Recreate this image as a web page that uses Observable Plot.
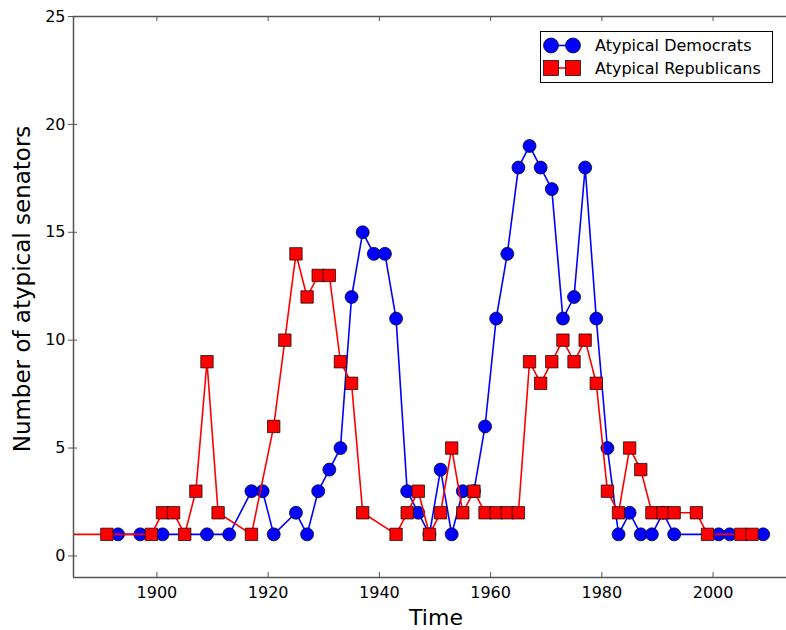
<!DOCTYPE html>
<html><head><meta charset="utf-8">
<script src="https://cdn.jsdelivr.net/npm/d3@7"></script>
<script src="https://cdn.jsdelivr.net/npm/@observablehq/plot@0.6"></script>
<style>
body{margin:0;background:#fff;}
#wrap{position:relative;width:786px;height:630px;font-family:"DejaVu Sans",sans-serif;overflow:hidden;}
#legend{position:absolute;left:540px;top:31px;}
</style></head><body><div id="wrap"></div>
<script>
// Data
const demYears = [1893,1897,1901,1909,1913,1917,1919,1921,1925,1927,1929,1931,1933,1935,1937,1939,1941,1943,1945,1947,1949,1951,1953,1955,1957,1959,1961,1963,1965,1967,1969,1971,1973,1975,1977,1979,1981,1983,1985,1987,1989,1991,1993,2001,2003,2009];
const demValues = [1,1,1,1,1,3,3,1,2,1,3,4,5,12,15,14,14,11,3,2,1,4,1,3,3,6,11,14,18,19,18,17,11,12,18,11,5,1,2,1,1,2,1,1,1,1];
const repYears = [1881,1891,1899,1901,1903,1905,1907,1909,1911,1917,1921,1923,1925,1927,1929,1931,1933,1935,1937,1943,1945,1947,1949,1951,1953,1955,1957,1959,1961,1963,1965,1967,1969,1971,1973,1975,1977,1979,1981,1983,1985,1987,1989,1991,1993,1997,1999,2005,2007];
const repValues = [1,1,1,2,2,1,3,9,2,1,6,10,14,12,13,13,9,8,2,1,2,3,1,2,5,2,3,2,2,2,2,9,8,9,10,9,10,8,3,2,5,4,2,2,2,2,1,1,1];
const seriesNames = ["Atypical Democrats", "Atypical Republicans"];
const xTicks = [1900,1920,1940,1960,1980,2000];
const yTicks = [0,5,10,15,20,25];
const xDomain = [1885, 2015];
const yDomain = [-1, 25];
const xLabel = "Time";
const yLabel = "Number of atypical senators";

const dem = demYears.map((x, i) => ({year: x, count: demValues[i]}));
const rep = repYears.map((x, i) => ({year: x, count: repValues[i]}));

const W = 786, H = 630, mL = 73, mR = 0, mT = 16, mB = 53;
const frameW = W - mL - mR, frameH = H - mT - mB;
const blue = "#0000ff", red = "#ff0000", axisCol = "#555";

const chart = Plot.plot({
  width: W, height: H,
  marginLeft: mL, marginRight: mR, marginTop: mT, marginBottom: mB,
  style: {fontFamily: "DejaVu Sans", background: "white", color: "black"},
  x: {domain: xDomain, range: [mL, W + 10]},
  y: {domain: yDomain},
  marks: [
    Plot.line(dem, {x: "year", y: "count", stroke: blue, strokeWidth: 1.6, clip: true}),
    Plot.dot(dem, {x: "year", y: "count", r: 6.5, fill: blue, stroke: "black", strokeWidth: 0.7, clip: true}),
    Plot.line(rep, {x: "year", y: "count", stroke: red, strokeWidth: 1.6, clip: true}),
    Plot.dot(rep, {x: "year", y: "count", symbol: "square", r: 7, fill: red, stroke: "black", strokeWidth: 0.7, clip: true}),
    // frame lines
    Plot.ruleX([xDomain[0]], {stroke: axisCol, strokeWidth: 1.5}),
    Plot.ruleY([yDomain[0]], {stroke: axisCol, strokeWidth: 1.5}),
    Plot.ruleY([yDomain[1]], {stroke: axisCol, strokeWidth: 1.5}),
    // inward ticks
    Plot.ruleX(xTicks, {stroke: axisCol, insetTop: frameH - 5}),
    Plot.ruleX(xTicks, {stroke: axisCol, insetBottom: frameH - 5}),
    Plot.ruleY(yTicks, {stroke: axisCol, insetRight: frameW - 4}),
    Plot.axisX(xTicks, {tickSize: 0, tickPadding: 9, fontSize: 16, label: null, fill: "black", tickFormat: d => String(d)}),
    Plot.axisY(yTicks, {tickSize: 5, tickPadding: 3, fontSize: 16, label: null, stroke: axisCol, fill: "black", tickFormat: d => String(d)}),
    Plot.text([xLabel], {frameAnchor: "bottom", text: d => d, dx: 6, dy: 40, fontSize: 22, textAnchor: "middle", lineAnchor: "middle", fill: "black"}),
    Plot.text([yLabel], {frameAnchor: "left", text: d => d, rotate: -90, dx: -51, dy: -8, fontSize: 23, textAnchor: "middle", lineAnchor: "middle", fill: "black"})
  ]
});
const wrap = document.getElementById("wrap");
wrap.appendChild(chart);

// Legend
const lw = 233, lh = 52;
const leg = d3.select(wrap).append("svg").attr("id", "legend").attr("width", lw).attr("height", lh)
  .style("font-family", "DejaVu Sans");
leg.append("rect").attr("x", 0.5).attr("y", 0.5).attr("width", lw - 1).attr("height", lh - 1)
  .attr("fill", "white").attr("stroke", "black").attr("stroke-width", 1);
const rows = [{name: seriesNames[0], color: blue, shape: "circle", y: 14.5},
              {name: seriesNames[1], color: red, shape: "square", y: 37}];
rows.forEach(r => {
  leg.append("line").attr("x1", 11).attr("x2", 33).attr("y1", r.y).attr("y2", r.y)
    .attr("stroke", r.color).attr("stroke-width", 1.6);
  [11, 33].forEach(cx => {
    if (r.shape === "circle") {
      leg.append("circle").attr("cx", cx).attr("cy", r.y).attr("r", 7.5)
        .attr("fill", r.color).attr("stroke", "black").attr("stroke-width", 0.7);
    } else {
      leg.append("rect").attr("x", cx - 7.5).attr("y", r.y - 7.5).attr("width", 15).attr("height", 15)
        .attr("fill", r.color).attr("stroke", "black").attr("stroke-width", 0.7);
    }
  });
  leg.append("text").attr("x", 55).attr("y", r.y).attr("dy", "0.35em")
    .attr("font-size", 16).attr("fill", "black").text(r.name);
});
</script>
</body></html>
